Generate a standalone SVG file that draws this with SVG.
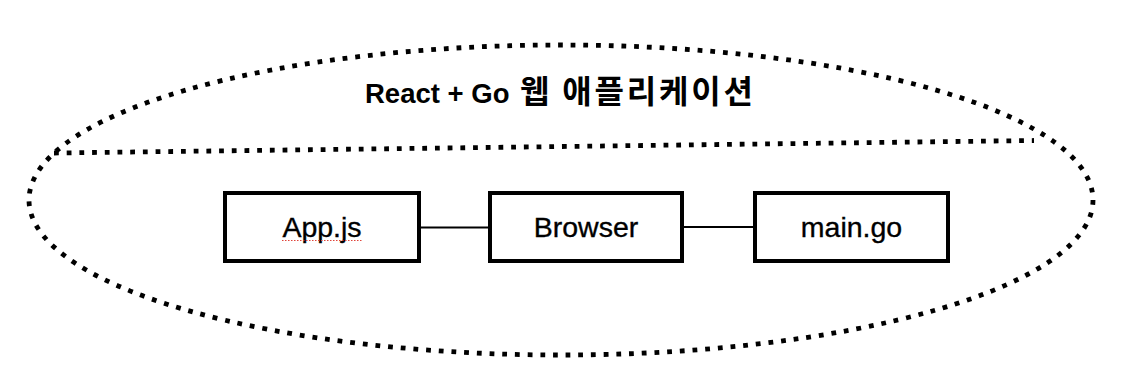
<svg xmlns="http://www.w3.org/2000/svg" width="1128" height="374" viewBox="0 0 1128 374">
<style>
.dot{fill:none;stroke:#000;stroke-width:4.8;stroke-dasharray:4.8 7.9}
.box{fill:#fff;stroke:#000;stroke-width:4}
.lbl{font-family:"Liberation Sans",Arial,sans-serif;font-size:28.5px;fill:#000;stroke:#000;stroke-width:0.35;text-anchor:middle}
.title{font-family:"Liberation Sans","Noto Sans CJK KR",sans-serif;font-size:27.5px;font-weight:bold;fill:#000}
.ko{font-family:"Noto Sans CJK KR",sans-serif;font-size:32px;font-weight:bold;letter-spacing:2.8px}
.conn{stroke:#000;stroke-width:2;fill:none}
</style>
<rect width="1128" height="374" fill="#fff"/>
<g id="group">
<ellipse class="dot" cx="561" cy="200" rx="532" ry="155"/>
<line class="dot" x1="54" y1="153" x2="1034" y2="140.5"/>
<text class="title" x="365" y="103">React + Go<tspan class="ko" x="520">웹 애플리케이션</tspan></text>
</g>
<g id="connectors">
<line class="conn" x1="419" y1="227.5" x2="490" y2="227.5"/>
<line class="conn" x1="682" y1="227" x2="755" y2="227"/>
</g>
<g id="app">
<rect class="box" x="225" y="193" width="194" height="68"/>
<text class="lbl" x="322" y="237">App.js</text>
<line x1="282" y1="240.5" x2="362" y2="240.5" stroke="#e0443a" stroke-width="1.2" stroke-dasharray="1.5 1.5"/>
</g>
<g id="browser">
<rect class="box" x="490" y="193" width="192" height="68"/>
<text class="lbl" x="586" y="237">Browser</text>
</g>
<g id="main">
<rect class="box" x="755" y="193" width="193" height="68"/>
<text class="lbl" x="851.5" y="237">main.go</text>
</g>
</svg>
